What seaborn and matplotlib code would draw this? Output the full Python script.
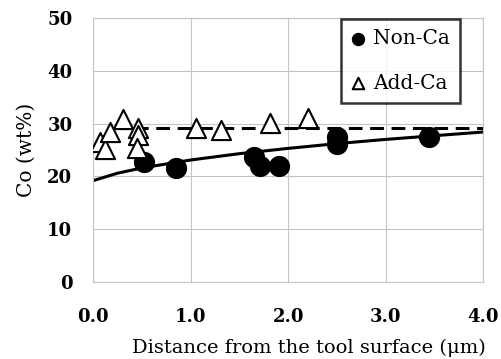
import pandas as pd
import seaborn as sns
import matplotlib.pyplot as plt
import numpy as np

# Data
non_ca_x = [0.52, 0.85, 1.65, 1.71, 1.91, 2.50, 2.50, 3.45]
non_ca_y = [22.8, 21.5, 23.6, 21.9, 22.0, 27.4, 26.2, 27.4]

add_ca_x = [0.07, 0.12, 0.17, 0.31, 0.46, 0.46, 0.45, 1.05, 1.31, 1.81, 2.20]
add_ca_y = [26.6, 25.2, 28.4, 30.8, 29.1, 27.8, 25.3, 29.2, 28.8, 30.2, 31.1]

# trend lines
fit_x = [0.0, 0.25, 0.5, 1.0, 1.5, 2.0, 2.5, 3.0, 3.5, 4.0]
fit_y = [19.2, 20.6, 21.6, 23.1, 24.3, 25.3, 26.2, 27.0, 27.7, 28.4]
avg_x = [0.2, 4.0]
avg_y = [29.2, 29.2]

sns.set_style("whitegrid", {"grid.color": "#c4c4c4", "axes.edgecolor": "#c4c4c4"})
plt.rcParams['font.family'] = ['DejaVu Serif']
plt.rcParams['text.color'] = 'black'
plt.rcParams['axes.labelcolor'] = 'black'
plt.rcParams['xtick.color'] = 'black'
plt.rcParams['ytick.color'] = 'black'

fig, ax = plt.subplots(figsize=(5.01, 3.59), dpi=100)
fig.subplots_adjust(left=0.186, right=0.964, top=0.950, bottom=0.2145)

sns.lineplot(x=fit_x, y=fit_y, color="black", linewidth=2.2, ax=ax)
sns.lineplot(x=avg_x, y=avg_y, color="black", linewidth=2.2, ax=ax,
             linestyle=(0, (4.5, 2.5)))

sns.scatterplot(x=non_ca_x, y=non_ca_y, marker="o", s=200, color="black",
                edgecolor="black", ax=ax, label="Non-Ca", zorder=3)
sns.scatterplot(x=add_ca_x, y=add_ca_y, marker="^", s=190, facecolor="white",
                edgecolor="black", linewidth=1.5, ax=ax, label="Add-Ca", zorder=3)

ax.set_xlim(0, 4)
ax.set_ylim(0, 50)
ax.set_xticks([0, 1, 2, 3, 4])
ax.set_xticklabels(["0.0", "1.0", "2.0", "3.0", "4.0"])
ax.set_yticks([0, 10, 20, 30, 40, 50])
ax.tick_params(axis="x", labelsize=13, length=0, pad=19)
ax.tick_params(axis="y", labelsize=13, length=0, pad=15)
for lab in ax.get_xticklabels() + ax.get_yticklabels():
    lab.set_fontweight("bold")

ax.set_xlabel("Distance from the tool surface (μm)", fontsize=14)
ax.xaxis.set_label_coords(0.554, -0.215)
ax.set_ylabel("Co (wt%)", fontsize=14.5)
ax.yaxis.set_label_coords(-0.146, 0.5)

leg = ax.legend(loc="upper right", fontsize=14.5, frameon=True, fancybox=False,
                handletextpad=0.45, borderpad=0.5, labelspacing=1.25,
                handlelength=0.6, markerscale=0.6, borderaxespad=0,
                bbox_to_anchor=(0.94, 0.995))
leg.get_frame().set_edgecolor("black")
leg.get_frame().set_linewidth(1.8)

fig.savefig("out.png", dpi=100)
